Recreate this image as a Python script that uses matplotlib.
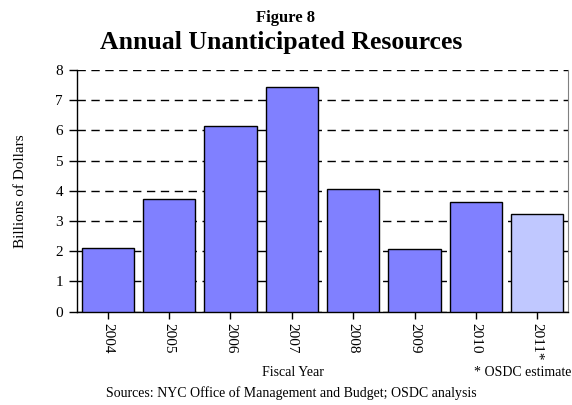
import matplotlib.pyplot as plt

years = ['2004', '2005', '2006', '2007', '2008', '2009', '2010', '2011*']
values = [2.12, 3.72, 6.13, 7.43, 4.07, 2.09, 3.64, 3.22]
is_estimate = [False, False, False, False, False, False, False, True]
yticks = [0, 1, 2, 3, 4, 5, 6, 7, 8]

plt.rcParams['font.family'] = ['Liberation Serif', 'DejaVu Serif']

fig = plt.figure(figsize=(5.72, 4.05), dpi=100)
ax = fig.add_axes([77 / 572, 1 - 311.7 / 405, 491 / 572, 241.7 / 405])

colors = ['#c0c8ff' if e else '#8080ff' for e in is_estimate]
x = list(range(len(years)))
ax.bar(x, values, width=0.85, color=colors, edgecolor='black', linewidth=1, zorder=3)

ax.set_xlim(-0.5, len(years) - 0.5)
ax.set_ylim(0, 8)
ax.set_yticks(yticks)
ax.set_xticks(x)
ax.set_xticklabels(years, rotation=-90, fontsize=11)
ax.tick_params(axis='y', labelsize=11, length=6, width=1, pad=4)
ax.tick_params(axis='x', length=5, width=1, pad=3)

ax.yaxis.grid(True, linestyle=(0, (6, 4)), color='black', linewidth=1, zorder=0)
ax.set_axisbelow(True)
ax.spines['top'].set_visible(False)
ax.spines['right'].set_color('#808080')
ax.spines['left'].set_linewidth(1)
ax.spines['bottom'].set_linewidth(1)

ax.set_ylabel('Billions of Dollars', fontsize=11)
ax.yaxis.set_label_coords(-(77 - 27) / 491, 0.5)

fig.text(286 / 572, 1 - 18 / 405, 'Figure 8', ha='center', va='center', fontsize=12, fontweight='bold')
fig.text(281 / 572, 1 - 43 / 405, 'Annual Unanticipated Resources', ha='center', va='center',
         fontsize=18.5, fontweight='bold')
fig.text(293 / 572, 1 - 372 / 405, 'Fiscal Year', ha='center', va='center', fontsize=10)
fig.text(571 / 572, 1 - 372 / 405, '* OSDC estimate', ha='right', va='center', fontsize=10)
fig.text(291 / 572, 1 - 393 / 405, 'Sources: NYC Office of Management and Budget; OSDC analysis',
         ha='center', va='center', fontsize=10)

fig.savefig('out.png', dpi=100)
